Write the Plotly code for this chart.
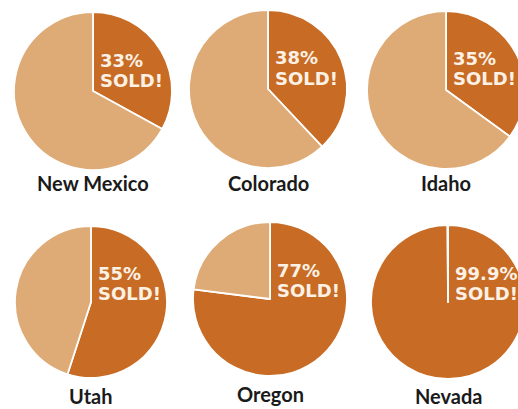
import plotly.graph_objects as go

states = ["New Mexico", "Colorado", "Idaho", "Utah", "Oregon", "Nevada"]
sold = [33, 38, 35, 55, 77, 99.9]
unsold = [67, 62, 65, 45, 23, 0.1]
sold_labels = ["33%", "38%", "35%", "55%", "77%", "99.9%"]

W, H = 540, 409  # page is cropped at 518 px by the window, like the reference
# layout geometry (pixels): centre x, centre y, radius
geom = [(93, 91, 79), (268, 89, 79), (446, 90, 79),
        (91, 302, 76), (270, 299, 77), (448, 302, 77)]
label_y = [183, 183, 183, 396, 394, 396]

DARK = "#C76B25"
LIGHT = "#DEAA75"

fig = go.Figure()
ann = []
for i, st in enumerate(states):
    cx, cy, r = geom[i]
    fig.add_trace(go.Pie(
        values=[sold[i], unsold[i]],
        labels=["Sold", "Unsold"],
        sort=False, direction="clockwise", rotation=0,
        marker=dict(colors=[DARK, LIGHT], line=dict(color="white", width=1.8)),
        textinfo="none", hoverinfo="skip", showlegend=False,
        domain=dict(x=[(cx - r) / W, (cx + r) / W],
                    y=[1 - (cy + r) / H, 1 - (cy - r) / H]),
    ))
    tx = (cx + 5) / W
    top = cy - 31 if i < 3 else cy - 29
    for txt, yy in [(sold_labels[i], top), ("SOLD!", top + 20)]:
        ann.append(dict(x=tx, y=1 - yy / H, xref="paper", yref="paper",
                        text=txt, showarrow=False, xanchor="left", yanchor="middle",
                        font=dict(family="DejaVu Sans", size=18, color="#FCF1E4", weight="bold")))
    ann.append(dict(x=cx / W, y=1 - label_y[i] / H, xref="paper", yref="paper",
                    text=st, showarrow=False, xanchor="center", yanchor="middle",
                    font=dict(family="Lato", size=20, color="#1A1A1A", weight="bold")))

fig.update_layout(width=W, height=H, margin=dict(l=0, r=0, t=0, b=0),
                  paper_bgcolor="white", plot_bgcolor="white", annotations=ann)
fig.write_html("out.html", config={"displayModeBar": False},
               post_script="document.body.style.margin='0';document.body.style.overflow='hidden';")
